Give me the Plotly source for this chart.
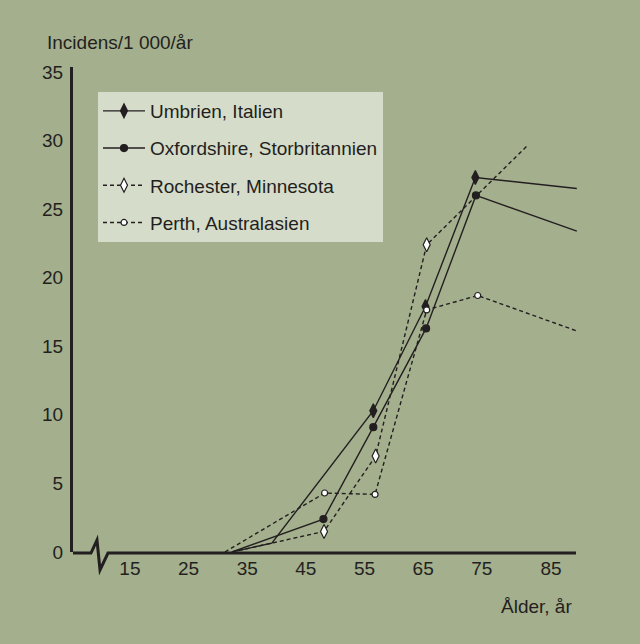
import plotly.graph_objects as go

# ---- data ----
series_names = ["Umbrien, Italien", "Oxfordshire, Storbritannien",
                "Rochester, Minnesota", "Perth, Australasien"]

umb_x = [32.4, 39.2, 56.5, 65.4, 73.9, 91.2]
umb_y = [0.0, 0.65, 10.3, 17.9, 27.3, 26.5]
umb_mark = [False, False, True, True, True, False]

oxf_x = [32.4, 48.0, 56.5, 65.5, 74.0, 91.2]
oxf_y = [0.0, 2.4, 9.1, 16.3, 26.0, 23.4]
oxf_mark = [False, True, True, True, True, False]

roc_x = [32.4, 39.2, 48.1, 56.9, 65.6, 82.7]
roc_y = [0.0, 0.65, 1.5, 7.0, 22.4, 29.6]
roc_mark = [False, False, True, True, True, False]

per_x = [31.2, 48.2, 56.8, 65.6, 74.3, 91.3]
per_y = [0.0, 4.3, 4.2, 17.65, 18.7, 16.1]
per_mark = [False, True, True, True, True, False]

x_tick_pos = [15, 25, 35, 45, 55, 65, 75, 86.8]
x_tick_text = ["15", "25", "35", "45", "55", "65", "75", "85"]
y_tick_vals = [0, 5, 10, 15, 20, 25, 30, 35]

# ---- styles ----
BG = "#a3af8d"
LEG_BG = "#d6dcca"
INK = "#231f20"
FONT = "Liberation Sans"
FS = 19
DOT = "4px,3px"

styles = [
    dict(dash="solid", symbol="diamond-tall", size=10, fill=INK),
    dict(dash="solid", symbol="circle", size=7, fill=INK),
    dict(dash=DOT, symbol="diamond-tall", size=10, fill="white"),
    dict(dash=DOT, symbol="circle", size=6, fill="white"),
]

data = [(umb_x, umb_y, umb_mark), (oxf_x, oxf_y, oxf_mark),
        (roc_x, roc_y, roc_mark), (per_x, per_y, per_mark)]

fig = go.Figure()

# lines
for (xs, ys, mk), st, nm in zip(data, styles, series_names):
    fig.add_trace(go.Scatter(x=xs, y=ys, mode="lines", showlegend=False,
                             line=dict(color=INK, width=1.4, dash=st["dash"]),
                             hoverinfo="skip", name=nm))
# markers
for (xs, ys, mk), st, nm in zip(data, styles, series_names):
    mx = [x for x, m in zip(xs, mk) if m]
    my = [y for y, m in zip(ys, mk) if m]
    fig.add_trace(go.Scatter(x=mx, y=my, mode="markers", showlegend=False, name=nm,
                             marker=dict(symbol=st["symbol"], size=st["size"],
                                         color=st["fill"],
                                         line=dict(color=INK, width=1.2))))
# legend entries
for i, (st, nm) in enumerate(zip(styles, series_names)):
    fig.add_trace(go.Scatter(x=[None], y=[None], mode="lines+markers", name=nm,
                             legendgroup=f"g{i}",
                             line=dict(color=INK, width=1.4, dash=st["dash"]),
                             marker=dict(symbol=st["symbol"], size=st["size"],
                                         color=st["fill"],
                                         line=dict(color=INK, width=1.2))))

# x-axis line with break (paper coords)
L, R, T, B = 73, 578, 67, 552
def px(x):
    return (x - L) / (R - L)
def py(y):
    return (B - y) / (B - T)
brk = [(73, 553), (91, 553), (97, 540), (100, 570), (108, 553), (576, 553)]
path = "M " + " L ".join(f"{px(a):.4f},{py(b):.4f}" for a, b in brk)

fig.update_layout(
    width=640, height=644,
    paper_bgcolor=BG, plot_bgcolor=BG,
    margin=dict(l=L, r=640 - R, t=T, b=644 - B),
    font=dict(family=FONT, size=FS, color=INK),
    shapes=[dict(type="path", xref="paper", yref="paper", path=path,
                 line=dict(color=INK, width=3))],
    xaxis=dict(range=[5.3, 91.4], showgrid=False, zeroline=False, showline=False,
               tickvals=x_tick_pos, ticktext=x_tick_text, ticks="",
               ticklabelstandoff=3,
               tickfont=dict(family=FONT, size=FS, color=INK), fixedrange=True),
    yaxis=dict(range=[0, 35.36], showgrid=False, zeroline=False, showline=True,
               linecolor=INK, linewidth=3, tickvals=y_tick_vals, ticks="",
               ticklabelstandoff=3,
               tickfont=dict(family=FONT, size=FS, color=INK), fixedrange=True),
    legend=dict(x=px(98), y=py(92), xanchor="left", yanchor="top",
                bgcolor=LEG_BG, borderwidth=0, tracegroupgap=9.5,
                itemwidth=42,
                font=dict(family=FONT, size=FS, color=INK)),
    annotations=[
        dict(text="Incidens/1 000/år", xref="paper", yref="paper",
             x=px(45), y=py(43), xanchor="left", yanchor="middle",
             showarrow=False, font=dict(family=FONT, size=FS, color=INK)),
        dict(text="Ålder, år", xref="paper", yref="paper",
             x=px(574), y=py(606), xanchor="right", yanchor="middle",
             showarrow=False, font=dict(family=FONT, size=FS, color=INK)),
    ],
)

fig.write_html("out.html", config={"displayModeBar": False},
               post_script="document.body.style.margin='0';document.body.style.padding='0';")
